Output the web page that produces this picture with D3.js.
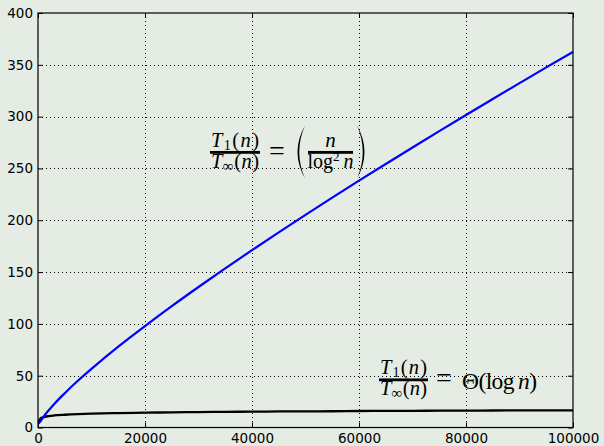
<!DOCTYPE html>
<html>
<head>
<meta charset="utf-8">
<script src="https://cdn.jsdelivr.net/npm/d3@7"></script>
<style>
  body { margin: 0; background: #e4ece4; }
  .tick text { font-family: "DejaVu Sans", sans-serif; font-size: 13.5px; fill: #000; }
  .math { font-family: "Liberation Serif", serif; fill: #000; }
</style>
</head>
<body>
<div id="chart"></div>
<script>
// values
var nVals = [100, 500, 1000, 2000, 3000, 5000, 7500, 10000, 15000, 20000, 25000, 30000, 35000, 40000,
             45000, 50000, 55000, 60000, 65000, 70000, 75000, 80000, 85000, 90000, 95000, 100000];
var ratioVals = [4, 6.2, 10.1, 16.6, 22.5, 33.1, 45.3, 56.6, 78.0, 97.9, 117.1, 135.6, 153.6, 171.1,
                 188.3, 205.2, 221.8, 238.2, 254.3, 270.2, 286.0, 301.6, 317.0, 332.3, 347.5, 362.4];
var logVals = [5, 9.0, 10.0, 11.0, 11.6, 12.3, 12.9, 13.3, 13.9, 14.3, 14.6, 14.9, 15.1, 15.3,
               15.5, 15.6, 15.7, 15.9, 16.0, 16.1, 16.2, 16.3, 16.4, 16.5, 16.5, 16.6];
var xTicks = [0, 20000, 40000, 60000, 80000, 100000];
var yTicks = [0, 50, 100, 150, 200, 250, 300, 350, 400];

function draw_chart() {
    var width = 604,
        height = 446,
        left = 38, right = 573, top = 13, bottom = 427.5;

    var svg = d3.select("#chart").append("svg")
        .attr("width", width)
        .attr("height", height);

    svg.append("rect").attr("width", width).attr("height", height).attr("fill", "#e4ece4");

    var x = d3.scaleLinear().domain([0, 100000]).range([left, right]);
    var y = d3.scaleLinear().domain([0, 400]).range([bottom, top]);

    // grid
    var grid = svg.append("g").attr("class", "grid")
        .attr("stroke", "#000").attr("stroke-width", 1).attr("stroke-dasharray", "1,3");
    grid.selectAll("line.gx").data(xTicks.slice(1, -1)).enter().append("line")
        .attr("x1", d => Math.round(x(d)) + 0.5).attr("x2", d => Math.round(x(d)) + 0.5)
        .attr("y1", top).attr("y2", bottom);
    grid.selectAll("line.gy").data(yTicks.slice(1, -1)).enter().append("line")
        .attr("y1", d => Math.round(y(d)) + 0.5).attr("y2", d => Math.round(y(d)) + 0.5)
        .attr("x1", left).attr("x2", right);

    // axes, ticks inside on all four sides
    var xAxis = svg.append("g").attr("transform", "translate(0," + bottom + ")")
        .call(d3.axisBottom(x).tickValues(xTicks).tickSizeInner(-5).tickSizeOuter(0).tickPadding(5.5).tickFormat(d3.format("d")));
    var yAxis = svg.append("g").attr("transform", "translate(" + left + ",0)")
        .call(d3.axisLeft(y).tickValues(yTicks).tickSizeInner(-5).tickSizeOuter(0).tickPadding(5).tickFormat(d3.format("d")));
    svg.append("g").attr("transform", "translate(0," + top + ")")
        .call(d3.axisTop(x).tickValues(xTicks).tickSizeInner(-5).tickSizeOuter(0).tickFormat(""));
    svg.append("g").attr("transform", "translate(" + right + ",0)")
        .call(d3.axisRight(y).tickValues(yTicks).tickSizeInner(-5).tickSizeOuter(0).tickFormat(""));
    svg.selectAll(".domain").remove();

    var line = d3.line().curve(d3.curveMonotoneX);

    svg.append("path")
        .attr("d", line(nVals.map((n, i) => [x(n), y(logVals[i])])))
        .attr("fill", "none").attr("stroke", "#000").attr("stroke-width", 2.3);
    svg.append("path")
        .attr("d", line(nVals.map((n, i) => [x(n), y(ratioVals[i])])))
        .attr("fill", "none").attr("stroke", "#0000ff").attr("stroke-width", 2.2);

    // frame
    svg.append("rect")
        .attr("x", left).attr("y", top).attr("width", right - left).attr("height", bottom - top)
        .attr("fill", "none").attr("stroke", "#000").attr("stroke-width", 1.2);

    // T1(n)/Tinf(n) fraction, origin at left end / centre of the bar
    function fraction(g, w, fs, dNum, dDen) {
        var num = g.append("text").attr("class", "math").attr("x", 1).attr("y", dNum)
            .attr("textLength", w - 2).attr("lengthAdjust", "spacing").style("font-size", fs + "px");
        num.append("tspan").attr("font-style", "italic").text("T");
        num.append("tspan").attr("font-size", fs * 0.7 + "px").attr("dy", 3).text("1");
        num.append("tspan").attr("dy", -3).text("(");
        num.append("tspan").attr("font-style", "italic").text("n");
        num.append("tspan").text(")");
        g.append("rect").attr("x", 0).attr("y", -1.4).attr("width", w).attr("height", 2.8).attr("fill", "#000");
        var den = g.append("text").attr("class", "math").attr("x", 1).attr("y", dDen)
            .attr("textLength", w - 2).attr("lengthAdjust", "spacing").style("font-size", fs + "px");
        den.append("tspan").attr("font-style", "italic").text("T");
        den.append("tspan").attr("font-size", fs * 0.75 + "px").attr("dy", 3).text("\u221E");
        den.append("tspan").attr("dy", -3).text("(");
        den.append("tspan").attr("font-style", "italic").text("n");
        den.append("tspan").text(")");
    }

    function paren(g, x0, y0, y1, dir) {
        // crescent shaped big parenthesis; dir 1 = "(", -1 = ")"
        var mid = (y0 + y1) / 2;
        g.append("path")
            .attr("d", "M" + x0 + "," + y0 +
                       " Q" + (x0 - dir * 15) + "," + mid + " " + x0 + "," + y1 +
                       " Q" + (x0 - dir * 11.5) + "," + mid + " " + x0 + "," + y0 + "Z")
            .attr("fill", "#000");
    }

    // first annotation
    var a1 = svg.append("g").attr("transform", "translate(" + x(32150) + "," + y(265.5) + ")");
    fraction(a1, 50, 20.5, -5, 16);
    a1.append("text").attr("class", "math").attr("x", 59).attr("y", 7.5).style("font-size", "28px").text("=");
    paren(a1, 95, -27, 26, 1);
    paren(a1, 147, -27, 26, -1);
    a1.append("text").attr("class", "math").attr("x", 120.5).attr("y", -5).attr("text-anchor", "middle")
        .style("font-size", "21px").attr("font-style", "italic").text("n");
    a1.append("rect").attr("x", 98).attr("y", -1.4).attr("width", 45).attr("height", 2.8).attr("fill", "#000");
    var lg = a1.append("text").attr("class", "math").attr("x", 120.5).attr("y", 16)
        .attr("text-anchor", "middle").style("font-size", "20px");
    lg.append("tspan").text("log");
    lg.append("tspan").attr("font-size", "13px").attr("dy", -7).text("2");
    lg.append("tspan").attr("dy", 7).text("\u2009");
    lg.append("tspan").attr("font-style", "italic").text("n");

    // second annotation
    var a2 = svg.append("g").attr("transform", "translate(" + x(63740) + "," + y(46) + ")");
    fraction(a2, 49, 20.5, -5.5, 15.5);
    a2.append("text").attr("class", "math").attr("x", 57).attr("y", 7.5).style("font-size", "28px").text("=");
    var th = a2.append("text").attr("class", "math").attr("x", 83).attr("y", 9.5)
        .attr("textLength", 75).attr("lengthAdjust", "spacing").style("font-size", "23.5px");
    th.append("tspan").text("\u0398(log\u2009");
    th.append("tspan").attr("font-style", "italic").text("n");
    th.append("tspan").text(")");
}

draw_chart();
</script>
</body>
</html>
